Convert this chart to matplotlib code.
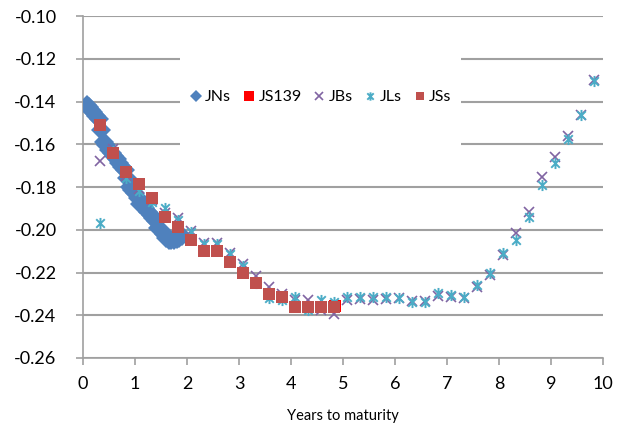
import matplotlib.pyplot as plt
import numpy as np
from matplotlib.path import Path
from matplotlib.patches import Rectangle

plt.rcParams['font.family'] = ['Lato', 'DejaVu Sans']

# JNs: dense blue diamonds
jn_t = [0.08, 0.12, 0.16, 0.20, 0.25, 0.30, 0.35, 0.40, 0.45, 0.50,
        0.55, 0.60, 0.65, 0.70, 0.75, 0.80, 0.85, 0.90, 0.95, 1.00,
        1.05, 1.10, 1.15, 1.20, 1.25, 1.30, 1.35, 1.40, 1.45, 1.50,
        1.55, 1.60, 1.65, 1.70, 1.75, 1.80, 1.85, 1.90]
jn_y = [-0.1415, -0.1425, -0.1440, -0.1450, -0.1468, -0.1480, -0.1535, -0.1590, -0.1605, -0.1625,
        -0.1640, -0.1655, -0.1670, -0.1690, -0.1705, -0.1720, -0.1760, -0.1800, -0.1815, -0.1830,
        -0.1850, -0.1880, -0.1890, -0.1900, -0.1915, -0.1930, -0.1945, -0.1960, -0.1990, -0.2000,
        -0.2020, -0.2040, -0.2050, -0.2050, -0.2050, -0.2045, -0.2040, -0.2030]

# JS139: single point
js139_t = [4.84]
js139_y = [-0.2356]

# quarterly maturities for JBs / JLs / JSs
q_t = [0.33, 0.58, 0.83, 1.08, 1.33, 1.58, 1.83, 2.08, 2.33, 2.58,
       2.83, 3.08, 3.33, 3.58, 3.83, 4.08, 4.33, 4.58, 4.83, 5.08,
       5.33, 5.58, 5.83, 6.08, 6.33, 6.58, 6.83, 7.08, 7.33, 7.58,
       7.83, 8.08, 8.33, 8.58, 8.83, 9.08, 9.33, 9.58, 9.83]

jb_y = [-0.1680, -0.1620, -0.1750, -0.1810, -0.1860, -0.1920, -0.1946, -0.2005, -0.2063, -0.2063,
        -0.2110, -0.2162, -0.2218, -0.2270, -0.2300, -0.2330, -0.2330, -0.2377, -0.2395, -0.2330,
        -0.2325, -0.2330, -0.2325, -0.2320, -0.2335, -0.2335, -0.2310, -0.2315, -0.2320, -0.2270,
        -0.2210, -0.2120, -0.2016, -0.1918, -0.1754, -0.1660, -0.1560, -0.1464, -0.1300]

jl_y = [-0.1970, -0.1630, -0.1760, -0.1820, -0.1870, -0.1900, -0.1955, -0.2010, -0.2065, -0.2065,
        -0.2115, -0.2170, -0.2250, -0.2320, -0.2330, -0.2316, -0.2375, -0.2330, -0.2340, -0.2316,
        -0.2316, -0.2316, -0.2316, -0.2320, -0.2340, -0.2340, -0.2298, -0.2307, -0.2316, -0.2260,
        -0.2204, -0.2110, -0.2050, -0.1940, -0.1790, -0.1690, -0.1575, -0.1464, -0.1305]

js_t = q_t[:19]
js_y = [-0.1511, -0.1642, -0.1731, -0.1787, -0.1852, -0.1941, -0.1988, -0.2049, -0.2101, -0.2101,
        -0.2152, -0.2204, -0.2251, -0.2302, -0.2316, -0.2363, -0.2363, -0.2363, -0.2363]

# asterisk-like marker: x plus vertical bar
star = Path([(-1, -1), (1, 1), (-1, 1), (1, -1), (0, -1.3), (0, 1.3)],
            [Path.MOVETO, Path.LINETO, Path.MOVETO, Path.LINETO, Path.MOVETO, Path.LINETO])

fig = plt.figure(figsize=(6.3, 4.32), dpi=100)
ax = fig.add_axes([83 / 630, 1 - 358 / 432, 520 / 630, 342 / 432])

ax.plot(jn_t, jn_y, 'D', color='#4F81BD', markersize=10, markeredgewidth=0, label='JNs', zorder=3)
ax.plot(js139_t, js139_y, 's', color='#FF0000', markersize=9, markeredgewidth=0, label='JS139', zorder=4)
ax.plot(q_t, jb_y, 'x', color='#8064A2', markersize=7, markeredgewidth=1.2, label='JBs', zorder=5)
ax.plot(q_t, jl_y, marker=star, linestyle='none', color='#4BACC6', markersize=8,
        markeredgewidth=1.4, label='JLs', zorder=6)
ax.plot(js_t, js_y, 's', color='#C0504D', markersize=8.5, markeredgewidth=0, label='JSs', zorder=7)

ax.set_xlim(0, 10)
ax.set_ylim(-0.26, -0.10)
ax.set_xticks(np.arange(0, 11, 1))
ax.set_yticks(np.arange(-0.26, -0.099, 0.02))
ax.yaxis.set_major_formatter(plt.FuncFormatter(lambda v, p: '%.2f' % v))
ax.tick_params(labelsize=13, length=5, color='#A0A0A0', width=1.2)
ax.tick_params(axis='y', pad=14)
ax.tick_params(axis='x', pad=8)

ax.set_axisbelow(True)
ax.grid(axis='y', color='#A0A0A0', linewidth=1.5)
for side in ['top', 'right']:
    ax.spines[side].set_visible(False)
for side in ['left', 'bottom']:
    ax.spines[side].set_color('#A0A0A0')
    ax.spines[side].set_linewidth(1.2)

ax.set_xlabel('Years to maturity', fontsize=10.5, labelpad=12)

# white legend area that hides the grid lines
ax.add_patch(Rectangle((0.1865, 0.608), 0.5405, 0.287, transform=ax.transAxes,
                       facecolor='white', edgecolor='none', zorder=1))
leg = ax.legend(loc='center', bbox_to_anchor=(0.458, 0.763), ncol=5, frameon=False,
                fontsize=11.5, markerscale=0.75, handlelength=0.6, handletextpad=0.3,
                columnspacing=0.8)
leg.legend_handles[0].set_markersize(6)

fig.savefig('out.png', dpi=100)
